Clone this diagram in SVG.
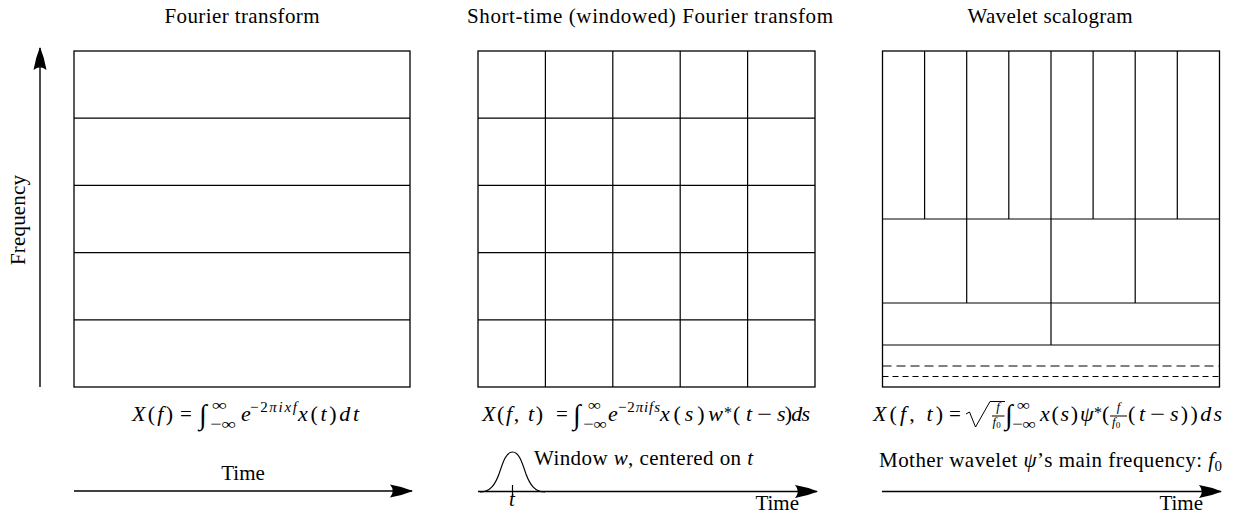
<svg xmlns="http://www.w3.org/2000/svg" width="1234" height="513" viewBox="0 0 1234 513">
<style>
text{font-family:"Liberation Serif","Times New Roman",serif;font-size:21px;fill:#000}
.m{font-size:22px}
.i{font-style:italic}
.s{font-size:15px}
.ast{font-size:16px}
.ss{font-size:13px}
.z{font-size:9px}
.int{font-size:28px}
.box{fill:none;stroke:#000;stroke-width:1.3}
.ln{stroke:#000;stroke-width:1.2;fill:none}
.thin{stroke:#000;stroke-width:1;fill:none}
.arr{stroke:#000;stroke-width:1.4;fill:none;marker-end:url(#stealth)}
</style>
<defs>
<marker id="stealth" markerUnits="userSpaceOnUse" markerWidth="24" markerHeight="14" refX="22" refY="7" orient="auto" viewBox="0 0 24 14">
<path d="M23,7 Q12,2.5 0,0.5 Q5.5,7 0,13.5 Q12,11.5 23,7 Z" fill="#000"/>
</marker>
</defs>
<rect width="1234" height="513" fill="#fff"/>

<g id="frequency-axis">
<text transform="translate(25,220) rotate(-90)" text-anchor="middle" textLength="90">Frequency</text>
</g>

<g id="fourier">
<text x="242" y="23" text-anchor="middle" textLength="155">Fourier transform</text>
<rect class="box" x="74" y="51" width="336" height="336"/>
<path class="ln" d="M74,118.2H410M74,185.4H410M74,252.6H410M74,319.8H410"/>
<text x="132" y="421" class="m" textLength="41"><tspan class="i">X</tspan>(<tspan class="i">f</tspan>)</text>
<text x="180" y="421">=</text>
<text x="199" y="424" class="int">∫</text>
<text x="212" y="410" class="s" textLength="15" lengthAdjust="spacingAndGlyphs">∞</text>
<text x="210" y="429" class="s" textLength="26" lengthAdjust="spacingAndGlyphs">−∞</text>
<text x="241" y="421" class="m i">e</text>
<text x="250" y="412" class="s" textLength="47">−2<tspan class="i">πixf</tspan></text>
<text x="298" y="421" class="m" textLength="61"><tspan class="i">x</tspan>(<tspan class="i">t</tspan>)<tspan class="i">dt</tspan></text>
<text x="243" y="480" text-anchor="middle">Time</text>
</g>

<g id="stft">
<text x="650" y="23" text-anchor="middle" textLength="366">Short-time (windowed) Fourier transfom</text>
<rect class="box" x="478" y="51" width="337" height="336"/>
<path class="ln" d="M478,118.2H815M478,185.4H815M478,252.6H815M478,319.8H815M545.4,51V387M612.8,51V387M680.2,51V387M747.6,51V387"/>
<text x="482" y="421" class="m" textLength="61"><tspan class="i">X</tspan>(<tspan class="i">f</tspan>, <tspan class="i">t</tspan>)</text>
<text x="556" y="421">=</text>
<text x="573" y="424" class="int">∫</text>
<text x="588" y="410" class="s" textLength="13" lengthAdjust="spacingAndGlyphs">∞</text>
<text x="583" y="429" class="s" textLength="24" lengthAdjust="spacingAndGlyphs">−∞</text>
<text x="608" y="421" class="m i">e</text>
<text x="618" y="412" class="s" textLength="42">−2<tspan class="i">πifs</tspan></text>
<text x="660" y="421" class="m" textLength="63"><tspan class="i">x</tspan>(<tspan class="i">s</tspan>)<tspan class="i">w</tspan></text>
<text x="724" y="418" class="ast">*</text>
<text x="733" y="421" class="m" textLength="19">(<tspan class="i">t</tspan></text>
<text x="757" y="421" textLength="15" lengthAdjust="spacingAndGlyphs">−</text>
<text x="777" y="421" class="m" textLength="33"><tspan class="i">s</tspan>)<tspan class="i">ds</tspan></text>
<path class="ln" d="M480,492 C490,492 495,485 499,474 C503,462 506,452 512.5,452 C519,452 522,462 526,474 C530,485 535,492 545,492"/>
<path class="ln" d="M512.5,485V497"/>
<text x="512" y="506" text-anchor="middle" class="i">t</text>
<text x="534" y="465" textLength="219">Window <tspan class="i">w</tspan>, centered on <tspan class="i">t</tspan></text>
<text x="799" y="510" text-anchor="end">Time</text>
</g>

<g id="wavelet">
<text x="1050" y="23" text-anchor="middle" textLength="165">Wavelet scalogram</text>
<rect class="box" x="882.5" y="51" width="337" height="336"/>
<path class="ln" d="M882.5,219H1219.5M882.5,303H1219.5M882.5,345H1219.5"/>
<path class="ln" d="M924.6,51V219M966.7,51V219M1008.8,51V219M1051,51V219M1093.1,51V219M1135.2,51V219M1177.3,51V219M966.7,219V303M1051,219V303M1135.2,219V303M1051,303V345"/>
<path class="ln" d="M882.5,366H1219.5" stroke-dasharray="9,5"/>
<path class="ln" d="M882.5,376.5H1219.5" stroke-dasharray="6,4"/>
<text x="873" y="421" class="m" textLength="70"><tspan class="i">X</tspan>(<tspan class="i">f</tspan>, <tspan class="i">t</tspan>)</text>
<text x="949" y="421">=</text>
<path class="thin" d="M966,414 L969.5,412 L975.5,427 L990,401.5 L1005,401.5"/>
<text x="998" y="411" class="ss i" text-anchor="middle">f</text>
<path class="thin" d="M992,416H1004.5"/>
<text x="992.5" y="426" class="ss"><tspan class="i">f</tspan><tspan class="z" dy="2">0</tspan></text>
<text x="1005" y="424" class="int">∫</text>
<text x="1017" y="410" class="s" textLength="13" lengthAdjust="spacingAndGlyphs">∞</text>
<text x="1012" y="429" class="s" textLength="24" lengthAdjust="spacingAndGlyphs">−∞</text>
<text x="1040" y="421" class="m" textLength="38"><tspan class="i">x</tspan>(<tspan class="i">s</tspan>)</text>
<text x="1080" y="421" class="m i">ψ</text>
<text x="1094" y="418" class="ast">*</text>
<text x="1102" y="421" class="m">(</text>
<text x="1118.5" y="411" class="ss i" text-anchor="middle">f</text>
<path class="thin" d="M1110,416H1127"/>
<text x="1112" y="426" class="ss"><tspan class="i">f</tspan><tspan class="z" dy="2">0</tspan></text>
<text x="1128" y="421" class="m" textLength="17">(<tspan class="i">t</tspan></text>
<text x="1150" y="421" textLength="15" lengthAdjust="spacingAndGlyphs">−</text>
<text x="1170" y="421" class="m" textLength="52"><tspan class="i">s</tspan>))<tspan class="i">ds</tspan></text>
<text x="879" y="467" textLength="343">Mother wavelet <tspan class="i">ψ</tspan>’s main frequency:  <tspan class="i">f</tspan><tspan class="s" dy="4">0</tspan></text>
<text x="1203" y="510" text-anchor="end">Time</text>
</g>

<g id="connectors">
<path class="arr" d="M40,387V48"/>
<path class="arr" d="M74,491H412"/>
<path class="arr" d="M478,491.5H817"/>
<path class="arr" d="M882,491.5H1221"/>
</g>
</svg>
